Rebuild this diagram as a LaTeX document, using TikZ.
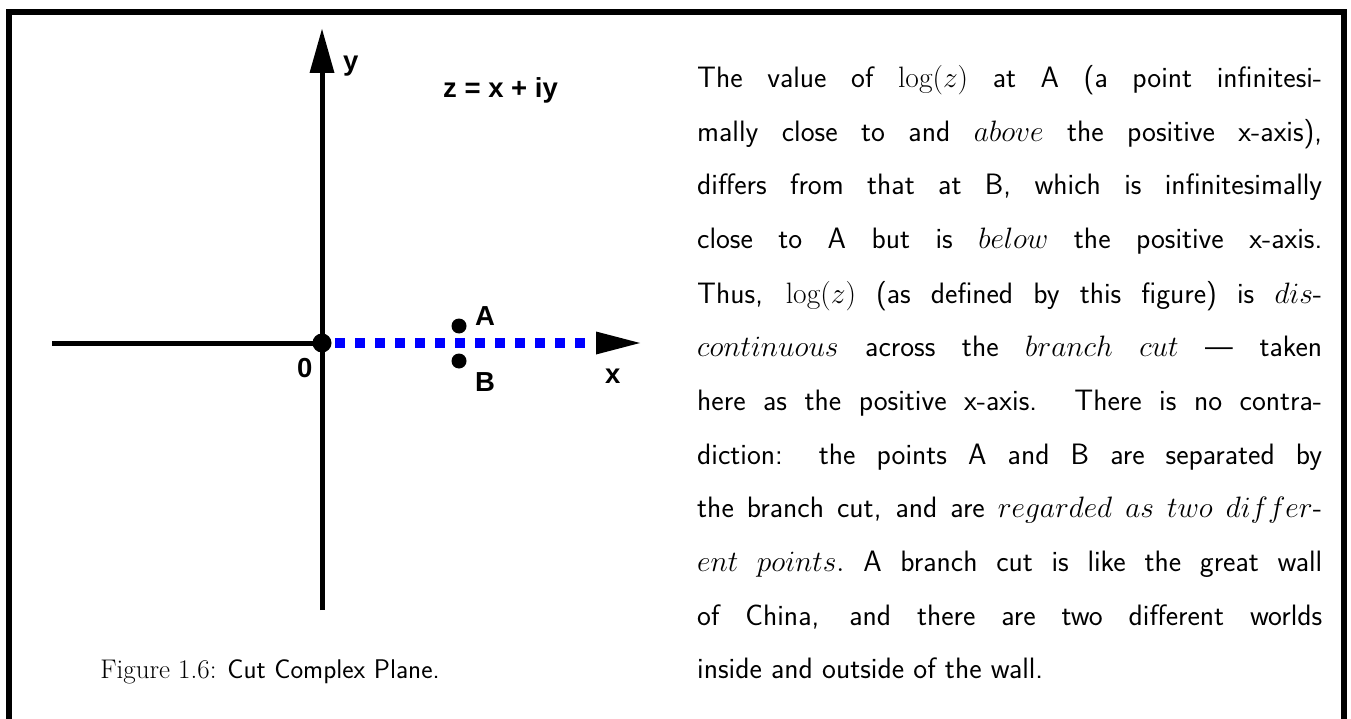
\RequirePackage{fix-cm}
\documentclass[tikz,border=0pt]{standalone}
\usepackage{fontspec}
\newfontfamily\hvb{Liberation Sans}
\usetikzlibrary{arrows.meta}
\definecolor{cutblue}{RGB}{0,0,255}
\begin{document}
\begin{tikzpicture}[x=1pt,y=-1pt,
  lbl/.style={font=\hvb\fontsize{27.5}{30}\selectfont\bfseries, inner sep=0pt},
  dotnode/.style={circle, fill=black, inner sep=0pt},
  axis/.style={line width=5pt},
  body/.style={anchor=base west, inner sep=0pt, font=\sffamily\fontsize{29.5}{32}\selectfont}]
\useasboundingbox (0,0) rectangle (1351,719);
% frame
\draw[line width=6pt] (9,719) -- (9,12) -- (1344,12) -- (1344,719);
% points
\node[dotnode, minimum size=19pt] (O) at (322,343) {};
\node[dotnode, minimum size=15pt] (A) at (459,326) {};
\node[dotnode, minimum size=15pt] (B) at (459,361) {};
\coordinate (xl) at (52,343);
\coordinate (xc) at (335,343);
\coordinate (xe) at (590,343);
\coordinate (xt) at (640,343);
\coordinate (yb) at (322,610);
\coordinate (yt) at (322,29);
% axes
\draw[axis] (xl) -- (O.center);
\draw[axis] (yb) -- (322,72);
\draw[line width=10pt, cutblue, dash pattern=on 10pt off 10pt] (xc) -- (xe);
\fill (yt) -- (334.5,73) -- (309.5,73) -- cycle;
\fill (xt) -- (596,331.5) -- (596,354.5) -- cycle;
% labels
\node[lbl, anchor=base west] (ylab) at (343,71) {y};
\node[lbl, anchor=base west] (xlab) at (605,383) {x};
\node[lbl, anchor=base west] (Alab) at (475,325) {A};
\node[lbl, anchor=base west] (Blab) at (475,391) {B};
\node[lbl, anchor=base west] (Olab) at (297,377) {0};
\node[lbl, anchor=base west] (zeq) at (443,98) {z = x + iy};
% caption
\node[anchor=base, inner sep=0pt, font=\fontsize{27}{30}\selectfont] (cap) at (270,678)
  {Figure 1.6: \textsf{Cut Complex Plane.}};
% body text
\newcommand{\jl}[1]{\makebox[625pt][s]{#1}}
\node[body] (l1) at (697,88)  {\jl{The value of $\log(z)$ at A (a point infinitesi-}};
\node[body] (l2) at (697,142) {\jl{mally close to and $above$ the positive x-axis),}};
\node[body] (l3) at (697,195) {\jl{differs from that at B, which is infinitesimally}};
\node[body] (l4) at (697,249) {\jl{close to A but is $below$ the positive x-axis.}};
\node[body] (l5) at (697,303) {\jl{Thus, $\log(z)$ (as defined by this figure) is $dis$-}};
\node[body] (l6) at (697,356) {\jl{$continuous$ across the $branch\ cut$ --- taken}};
\node[body] (l7) at (697,410) {\jl{here as the positive x-axis. There is no contra-}};
\node[body] (l8) at (697,464) {\jl{diction: the points A and B are separated by}};
\node[body] (l9) at (697,517) {\jl{the branch cut, and are $regarded\ as\ two\ differ$-}};
\node[body] (l10) at (697,571) {\jl{$ent\ points.$ A branch cut is like the great wall}};
\node[body] (l11) at (697,625) {\jl{of China, and there are two different worlds}};
\node[body] (l12) at (697,678) {inside and outside of the wall.};
\end{tikzpicture}
\end{document}
